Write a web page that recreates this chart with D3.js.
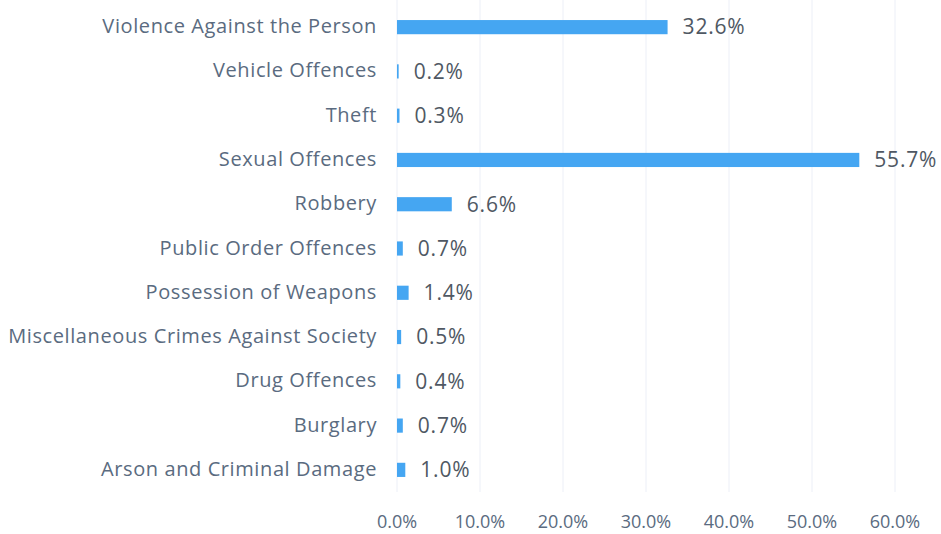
<!DOCTYPE html>
<html>
  <head>
    <meta charset="utf-8">
    <title>Offence share</title>
    <script src="https://d3js.org/d3.v7.min.js"></script>
    <style>
      body { margin: 0; background: #fff; }
      svg text { font-family: "Open Sans", sans-serif; }
    </style>
  </head>
  <body>
    <div id="chart"></div>
    <script>
      // categories top to bottom, value in percent
      var categories = [
        "Violence Against the Person",
        "Vehicle Offences",
        "Theft",
        "Sexual Offences",
        "Robbery",
        "Public Order Offences",
        "Possession of Weapons",
        "Miscellaneous Crimes Against Society",
        "Drug Offences",
        "Burglary",
        "Arson and Criminal Damage"
      ];
      var values = [32.6, 0.2, 0.3, 55.7, 6.6, 0.7, 1.4, 0.5, 0.4, 0.7, 1.0];
      var ticks = [0, 10, 20, 30, 40, 50, 60];

      var width = 941, height = 534;
      var x0 = 397, x1 = 895;
      var svg = d3.select("#chart").append("svg")
        .attr("width", width)
        .attr("height", height);

      var x = d3.scaleLinear().domain([0, 60]).range([x0, x1]);
      var y = d3.scaleBand().domain(categories).range([5, 492]).paddingInner(0.68).paddingOuter(0.34);

      // faint gridlines
      svg.selectAll(".grid").data(ticks).enter().append("line")
        .attr("x1", function (d) { return x(d); })
        .attr("x2", function (d) { return x(d); })
        .attr("y1", 0).attr("y2", 492)
        .attr("stroke", "#eceff7")
        .attr("stroke-width", 1);

      // bars
      svg.selectAll(".bar").data(values).enter().append("rect")
        .attr("x", x(0))
        .attr("y", function (d, i) { return y(categories[i]); })
        .attr("width", function (d) { return x(d) - x(0); })
        .attr("height", y.bandwidth())
        .attr("fill", "#45a6f2");

      // value labels
      svg.selectAll(".val").data(values).enter().append("text")
        .attr("x", function (d) { return x(d) + 15; })
        .attr("y", function (d, i) { return y(categories[i]) + y.bandwidth() / 2; })
        .attr("dy", "0.35em")
        .style("font-size", "21px")
        .style("letter-spacing", "0.8px")
        .style("fill", "#4f5863")
        .text(function (d) { return d.toFixed(1) + "%"; });

      // category labels
      svg.selectAll(".cat").data(categories).enter().append("text")
        .attr("x", 377)
        .attr("y", function (d) { return y(d) + y.bandwidth() / 2 - 1; })
        .attr("dy", "0.35em")
        .attr("text-anchor", "end")
        .style("font-size", "20px")
        .style("letter-spacing", "0.6px")
        .style("fill", "#5a6b80")
        .text(function (d) { return d; });

      // x tick labels
      svg.selectAll(".tick").data(ticks).enter().append("text")
        .attr("x", function (d) { return x(d); })
        .attr("y", 522)
        .attr("dy", "0.35em")
        .attr("text-anchor", "middle")
        .style("font-size", "18px")
        .style("fill", "#5a6b80")
        .text(function (d) { return d.toFixed(1) + "%"; });
    </script>
  </body>
</html>
